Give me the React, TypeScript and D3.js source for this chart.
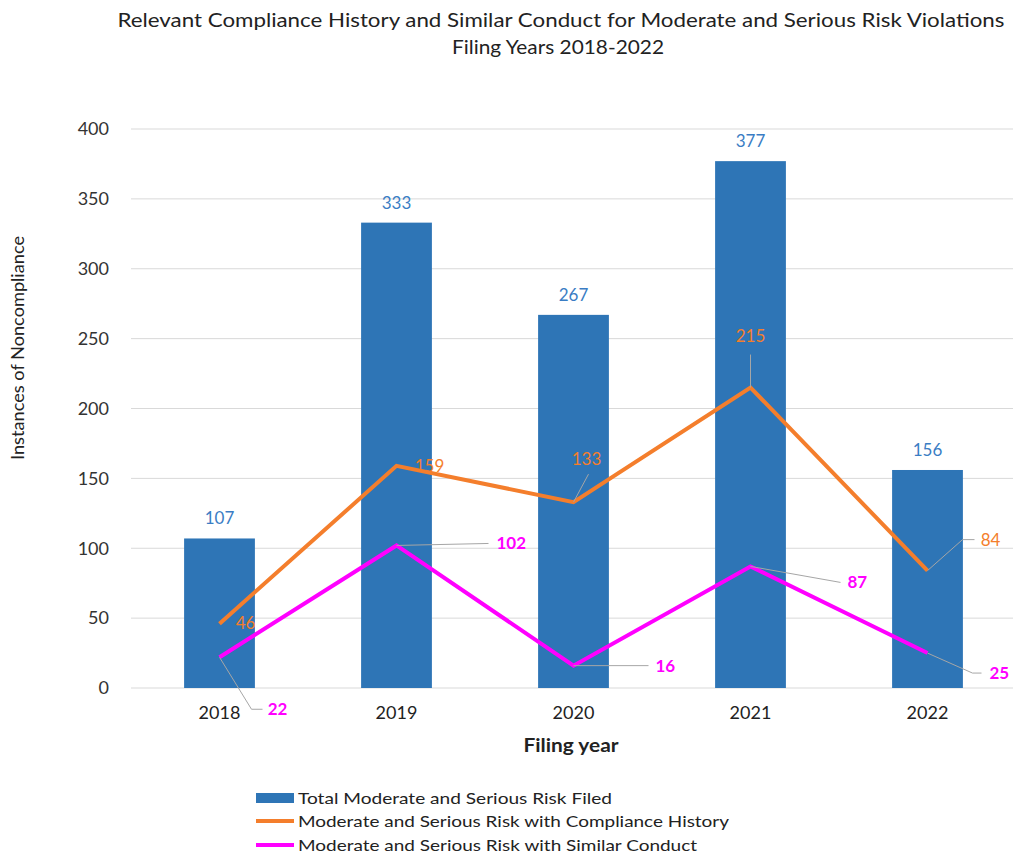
import React from "react";
import * as d3 from "d3";

const years = ["2018", "2019", "2020", "2021", "2022"];
const totalFiled = [107, 333, 267, 377, 156];
const complianceHistory = [46, 159, 133, 215, 84];
const similarConduct = [22, 102, 16, 87, 25];
const yTicks = [0, 50, 100, 150, 200, 250, 300, 350, 400];

// label layout (offsets from the data point), as in the reference
const orangeLabelPos = [
  { lx: 26, ly: -1, leader: null },
  { lx: 33, ly: 0, leader: null },
  { lx: 13, ly: -43, leader: [[0, 0], [15, -28]] },
  { lx: 0, ly: -51, leader: [[0, 0], [0, -33]] },
  { lx: 63, ly: -31, leader: [[0, 0], [35, -31], [47, -31]] },
];
const magentaLabelPos = [
  { lx: 58, ly: 52, anchor: "middle", leader: [[0, 0], [32, 52], [43, 52]] },
  { lx: 100, ly: -2, anchor: "start", leader: [[0, 0], [92, -2]] },
  { lx: 82, ly: 0, anchor: "start", leader: [[0, 0], [75, 0]] },
  { lx: 97, ly: 16, anchor: "start", leader: [[0, 0], [90, 16]] },
  { lx: 62, ly: 20, anchor: "start", leader: [[0, 0], [45, 20], [54, 20]] },
];

const BLUE = "#2E75B6";
const ORANGE = "#F47E2C";
const MAGENTA = "#FF00FF";
const FONT = "Lato, 'Open Sans', sans-serif";

export default function App() {
  const W = 1013, H = 857;
  const x = d3.scaleBand().domain(years).range([131, 1016]).paddingInner(0.6).paddingOuter(0.3);
  const y = d3.scaleLinear().domain([0, 400]).range([688, 129]);
  const cx = (d: string) => (x(d) as number) + x.bandwidth() / 2;
  const line = d3.line<number>().x((_, i) => cx(years[i])).y((v) => y(v));

  return (
    <svg width={W} height={H} style={{ position: "absolute", left: 0, top: 0, background: "#fff" }} fontFamily={FONT}>
      <rect width={W} height={H} fill="#fff" />
      <text x={561} y={20} dy="0.35em" textAnchor="middle" fontSize={20} fill="#222" textLength={887} lengthAdjust="spacingAndGlyphs">
        Relevant Compliance History and Similar Conduct for Moderate and Serious Risk Violations
      </text>
      <text x={558} y={47} dy="0.35em" textAnchor="middle" fontSize={20} fill="#222" textLength={212} lengthAdjust="spacingAndGlyphs">
        Filing Years 2018-2022
      </text>

      {yTicks.map((t) => (
        <g key={t}>
          <line x1={131} x2={1013} y1={y(t)} y2={y(t)} stroke="#D9D9D9" strokeWidth={1} />
          <text x={109} y={y(t)} dy="0.35em" textAnchor="end" fontSize={18} fill="#333">{t}</text>
        </g>
      ))}

      {years.map((yr, i) => (
        <g key={yr}>
          <rect x={x(yr)} y={y(totalFiled[i])} width={x.bandwidth()} height={y(0) - y(totalFiled[i])} fill={BLUE} />
          <text x={cx(yr)} y={y(totalFiled[i]) - 20} dy="0.35em" textAnchor="middle" fontSize={17} fill="#3A7DC4">
            {totalFiled[i]}
          </text>
          <text x={cx(yr)} y={713} dy="0.35em" textAnchor="middle" fontSize={18} fill="#222">{yr}</text>
        </g>
      ))}

      <path d={line(complianceHistory) || ""} fill="none" stroke={ORANGE} strokeWidth={4} strokeLinejoin="miter" />
      <path d={line(similarConduct) || ""} fill="none" stroke={MAGENTA} strokeWidth={4} strokeLinejoin="miter" />

      {years.map((yr, i) => {
        const px = cx(yr), py = y(complianceHistory[i]);
        const p = orangeLabelPos[i];
        return (
          <g key={"o" + yr}>
            {p.leader && (
              <polyline points={p.leader.map(([a, b]) => `${px + a},${py + b}`).join(" ")} fill="none" stroke="#A6A6A6" strokeWidth={1} />
            )}
            <text x={px + p.lx} y={py + p.ly} dy="0.35em" textAnchor="middle" fontSize={17} fill={ORANGE}>
              {complianceHistory[i]}
            </text>
          </g>
        );
      })}
      {years.map((yr, i) => {
        const px = cx(yr), py = y(similarConduct[i]);
        const p = magentaLabelPos[i];
        return (
          <g key={"m" + yr}>
            <polyline points={p.leader.map(([a, b]) => `${px + a},${py + b}`).join(" ")} fill="none" stroke="#A6A6A6" strokeWidth={1} />
            <text x={px + p.lx} y={py + p.ly} dy="0.35em" textAnchor={p.anchor as any} fontSize={17} fontWeight="bold" fill={MAGENTA}>
              {similarConduct[i]}
            </text>
          </g>
        );
      })}

      <text x={571} y={746} dy="0.35em" textAnchor="middle" fontSize={18} fontWeight="bold" fill="#222" textLength={95} lengthAdjust="spacingAndGlyphs">
        Filing year
      </text>
      <text transform="translate(18,348) rotate(-90)" dy="0.35em" textAnchor="middle" fontSize={17} fill="#222" textLength={224} lengthAdjust="spacingAndGlyphs">
        Instances of Noncompliance
      </text>

      <rect x={256} y={793} width={38} height={10} fill={BLUE} />
      <text x={298} y={798} dy="0.35em" fontSize={16} fill="#222" textLength={314} lengthAdjust="spacingAndGlyphs">
        Total Moderate and Serious Risk Filed
      </text>
      <line x1={256} x2={294} y1={821} y2={821} stroke={ORANGE} strokeWidth={4} />
      <text x={298} y={821} dy="0.35em" fontSize={16} fill="#222" textLength={431} lengthAdjust="spacingAndGlyphs">
        Moderate and Serious Risk with Compliance History
      </text>
      <line x1={256} x2={294} y1={845} y2={845} stroke={MAGENTA} strokeWidth={4} />
      <text x={298} y={845} dy="0.35em" fontSize={16} fill="#222" textLength={399} lengthAdjust="spacingAndGlyphs">
        Moderate and Serious Risk with Similar Conduct
      </text>
    </svg>
  );
}
